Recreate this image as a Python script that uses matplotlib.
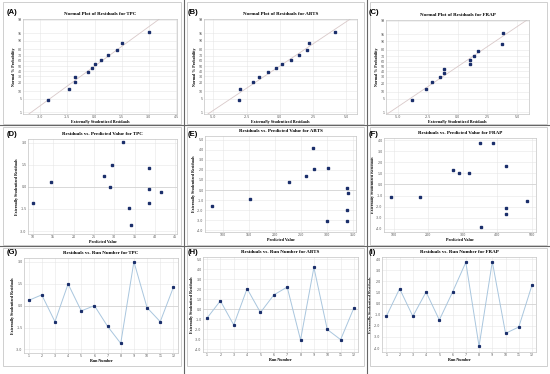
import numpy as np
import matplotlib
matplotlib.use("Agg")
import matplotlib.pyplot as plt
from matplotlib.lines import Line2D
from matplotlib.patches import Rectangle
from statistics import NormalDist

# 残差数据 (按试验编号 1-12)
runs = list(range(1, 13))
tpc_resid = [0.36, 0.74, -1.10, 1.49, -0.36, 0.00, -1.42, -2.59, 3.02, -0.14, -1.10, 1.26]
abts_resid = [-0.88, 0.84, -1.56, 2.05, -0.32, 1.43, 2.21, -3.05, 4.16, -2.01, -3.02, 0.16]
frap_resid = [-1.14, 1.35, -1.14, 1.05, -1.47, 1.05, 3.72, -3.84, 3.78, -2.67, -2.10, 1.68]

# 预测值
tpc_pred = [14.5, 27.5, 38.6, 29.4, 41.5, 29.0, 33.7, 34.0, 32.2, 38.6, 10.0, 38.6]
abts_pred = [151.3, 226.9, 78.8, 275.0, 340.4, 260.3, 301.3, 300.0, 272.4, 337.8, 337.8, 337.8]
frap_pred = [90.3, 270.9, 176.7, 290.3, 486.4, 317.5, 350.5, 353.4, 388.3, 426.2, 426.2, 426.2]

prob_ticks = [1, 5, 10, 20, 30, 40, 50, 60, 70, 80, 90, 95, 99]

W, H = 550, 374
PT_COLOR = '#1b2f6b'
SERIF = 'Liberation Serif'

fig = plt.figure(figsize=(W / 100, H / 100), dpi=100)


def add_ax(l, t, r, b):
    return fig.add_axes([l / W, 1 - b / H, (r - l) / W, (b - t) / H])


def style(ax, title, xlabel, ylabel):
    for s in ax.spines.values():
        s.set_color('#c4c4c4')
        s.set_linewidth(0.5)
    ax.tick_params(length=0, labelsize=2.3, labelcolor='#555555', pad=1.0)
    ax.grid(True, color='#e6e6e6', linewidth=0.4)
    ax.set_axisbelow(True)
    ax.set_title(title, fontsize=3.6, fontweight='bold', family=SERIF, pad=3)
    ax.set_xlabel(xlabel, fontsize=3.0, fontweight='bold', family=SERIF, labelpad=0.3)
    ax.set_ylabel(ylabel, fontsize=2.9, fontweight='bold', family=SERIF, labelpad=0.8)


def normal_plot(ax, resid, xlim, xticks, name):
    nd = NormalDist()
    r = np.sort(np.array(resid))
    n = len(r)
    z = [nd.inv_cdf((i + 0.5) / n) for i in range(n)]
    mu, sd = np.mean(r), np.std(r, ddof=1)
    xs = np.array(xlim)
    ax.plot(xs, (xs - mu) / sd, color='#d9c9c9', lw=0.6)
    ax.plot(r, z, 's', color=PT_COLOR, ms=1.6)
    ax.set_xlim(xlim)
    ax.set_ylim(-2.42, 2.37)
    ax.set_xticks(xticks)
    ax.set_xticklabels([f'{v:.1f}' for v in xticks])
    ax.set_yticks([nd.inv_cdf(p / 100) for p in prob_ticks])
    ax.set_yticklabels([str(p) for p in prob_ticks])
    style(ax, f'Normal Plot of Residuals for {name}',
          'Externally Studentized Residuals', 'Normal % Probability')


def pred_plot(ax, pred, resid, xlim, xticks, ylim, yticks, name):
    ax.axhline(0, color='#cfcfcf', lw=0.5)
    ax.plot(pred, resid, 's', color=PT_COLOR, ms=1.6)
    ax.set_xlim(xlim)
    ax.set_ylim(ylim)
    ax.set_xticks(xticks)
    ax.set_yticks(yticks)
    ax.set_yticklabels([f'{v:.1f}' for v in yticks])
    style(ax, f'Residuals vs. Predicted Value for {name}',
          'Predicted Value', 'Externally Studentized Residuals')


def run_plot(ax, resid, xlim, ylim, yticks, name):
    ax.axhline(0, color='#cfcfcf', lw=0.5)
    ax.plot(runs, resid, '-', color='#a9c6de', lw=0.7)
    ax.plot(runs, resid, 's', color=PT_COLOR, ms=1.3)
    ax.set_xlim(xlim)
    ax.set_ylim(ylim)
    ax.set_xticks(runs)
    ax.set_yticks(yticks)
    ax.set_yticklabels([f'{v:.1f}' for v in yticks])
    style(ax, f'Residuals vs. Run Number for {name}',
          'Run Number', 'Externally Studentized Residuals')


# 第一行: 正态概率图
normal_plot(add_ax(23, 19, 177, 114), tpc_resid, (-3.95, 4.55),
            [-3.0, -1.5, 0.0, 1.5, 3.0, 4.5], 'TPC')
normal_plot(add_ax(204, 19, 357, 114), abts_resid, (-5.7, 5.8),
            [-5.0, -2.5, 0.0, 2.5, 5.0], 'ABTS')
normal_plot(add_ax(386, 20, 529, 114), frap_resid, (-6.0, 6.0),
            [-5.0, -2.5, 0.0, 2.5, 5.0], 'FRAP')

# 第二行: 残差 vs 预测值
pred_plot(add_ax(28, 139, 177, 234), tpc_pred, tpc_resid, (8.8, 45.4),
          np.arange(10, 46, 5), (-3.2, 3.25), [-3.0, -1.5, 0.0, 1.5, 3.0], 'TPC')
pred_plot(add_ax(205, 136, 356, 232), abts_pred, abts_resid, (65, 356),
          np.arange(100, 351, 50), (-4.15, 5.35), np.arange(-4, 6, 1), 'ABTS')
pred_plot(add_ax(384, 138, 536, 232), frap_pred, frap_resid, (71, 513),
          np.arange(100, 501, 100), (-4.3, 4.2), np.arange(-4, 5, 1), 'FRAP')

# 第三行: 残差 vs 试验编号
run_plot(add_ax(24, 258, 178, 353), tpc_resid, (0.65, 12.35), (-3.25, 3.27),
         [-3.0, -1.5, 0.0, 1.5, 3.0], 'TPC')
run_plot(add_ax(203, 257, 358, 352), abts_resid, (0.7, 12.3), (-4.25, 5.2),
         np.arange(-4, 6, 1), 'ABTS')
run_plot(add_ax(382, 257, 536, 352), frap_resid, (0.67, 12.3), (-4.35, 4.2),
         np.arange(-4, 5, 1), 'FRAP')

# 面板边框和分隔线
col_x = [0, 184, 367, 550]
row_y = [0, 125, 246, 374]
for i in range(3):
    for j in range(3):
        x0, x1 = col_x[j] + 3, col_x[j + 1] - 3
        y0, y1 = row_y[i] + 2, row_y[i + 1] - (8 if i == 2 else 1)
        fig.add_artist(Rectangle((x0 / W, 1 - y1 / H), (x1 - x0) / W, (y1 - y0) / H,
                                 transform=fig.transFigure, fill=False,
                                 edgecolor='#c8c8c8', lw=0.6))
for x in col_x[1:3]:
    fig.add_artist(Line2D([x / W, x / W], [0, 1], transform=fig.transFigure,
                          color='#666666', lw=0.8))
for y in row_y[1:3]:
    fig.add_artist(Line2D([0, 1], [1 - y / H, 1 - y / H], transform=fig.transFigure,
                          color='#666666', lw=0.8))

letters = 'ABCDEFGHI'
letter_dx = [7, 4, 2]
letter_y = [13, 134, 252]
for i in range(3):
    for j in range(3):
        fig.text((col_x[j] + letter_dx[j]) / W, 1 - letter_y[i] / H,
                 f'({letters[3 * i + j]})',
                 fontsize=5.5, fontweight='bold', family='Liberation Sans', va='center')

fig.savefig('out.png', dpi=100)
